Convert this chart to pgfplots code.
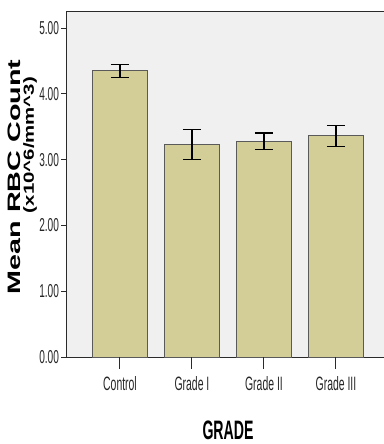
\documentclass[border=0pt]{standalone}
\usepackage{pgfplots}
\pgfplotsset{compat=1.18}
\usepackage{fontspec}
\usepackage{graphicx}
\setmainfont{Liberation Sans}

\definecolor{barfill}{HTML}{D3CE97}
\definecolor{baredge}{HTML}{5A5A5A}
\definecolor{plotbg}{HTML}{F0F0F0}
\definecolor{axisline}{HTML}{2A2A2A}

\newcommand{\ticktext}[2]{\scalebox{0.54}[1]{\fontsize{#1}{#1}\selectfont #2}}

\begin{document}
\begin{tikzpicture}
\begin{axis}[
  at={(50.25pt,-8.25pt)}, anchor=north west,
  scale only axis,
  width=237.75pt, height=259.5pt,
  xmin=-0.736, xmax=3.667,
  ymin=0, ymax=5.26,
  axis x line*=box,
  axis y line*=left,
  axis line style={axisline, line width=0.75pt},
  axis background/.style={fill=plotbg},
  tick align=outside,
  major tick length=4.25pt,
  tick style={axisline, line width=0.75pt},
  xtick={0,1,2,3},
  xticklabels={
    \ticktext{14.5}{Control},
    \ticktext{14.5}{Grade I},
    \ticktext{14.5}{Grade II},
    \ticktext{14.5}{Grade III}},
  xtick style={draw=none},
  xtick pos=bottom,
  xticklabel pos=lower,
  xticklabel style={inner sep=0pt, anchor=north, yshift=-10pt, text=black!85},
  ytick={0,1,2,3,4,5},
  yticklabels={
    \ticktext{14}{0.00},
    \ticktext{14}{1.00},
    \ticktext{14}{2.00},
    \ticktext{14}{3.00},
    \ticktext{14}{4.00},
    \ticktext{14}{5.00}},
  ytick pos=left,
  yticklabel style={inner sep=0pt, anchor=east, xshift=-1.6pt, text=black!85},
  clip=false,
]
  % mean RBC count per group, with error bars
  \addplot[
    ybar, bar width=0.757,
    fill=barfill, draw=baredge, line width=0.75pt,
    error bars/.cd,
      y dir=both, y explicit,
      error bar style={black, line width=1.1pt},
      error mark options={rotate=90, mark size=6.75pt, line width=1.1pt, black},
  ] coordinates {
    (0,4.35) +- (0,0.10)
    (1,3.23) +- (0,0.225)
    (2,3.28) +- (0,0.125)
    (3,3.36) +- (0,0.16)
  };
  % category tick marks below the axis
  \draw[axisline, line width=0.75pt] (axis cs:0,0) -- ++(0pt,-9pt);
  \draw[axisline, line width=0.75pt] (axis cs:1,0) -- ++(0pt,-9pt);
  \draw[axisline, line width=0.75pt] (axis cs:2,0) -- ++(0pt,-9pt);
  \draw[axisline, line width=0.75pt] (axis cs:3,0) -- ++(0pt,-9pt);
\end{axis}

% axis titles
\node[rotate=90, inner sep=0pt] at (10.5pt,-132.75pt)
  {\resizebox{176pt}{\height}{\fontsize{13.5}{16}\selectfont\bfseries Mean RBC Count}};
\node[rotate=90, inner sep=0pt] at (22.5pt,-108.75pt)
  {\resizebox{102pt}{\height}{\fontsize{11}{13}\selectfont\bfseries (x10\textasciicircum6/mm\textasciicircum3)}};
\node[anchor=base, inner sep=0pt] at (171pt,-329.25pt)
  {\resizebox{38.25pt}{\height}{\fontsize{20}{24}\selectfont\bfseries GRADE}};

\pgfresetboundingbox
\useasboundingbox (0,0) rectangle (288pt,-333pt);
\end{tikzpicture}
\end{document}
